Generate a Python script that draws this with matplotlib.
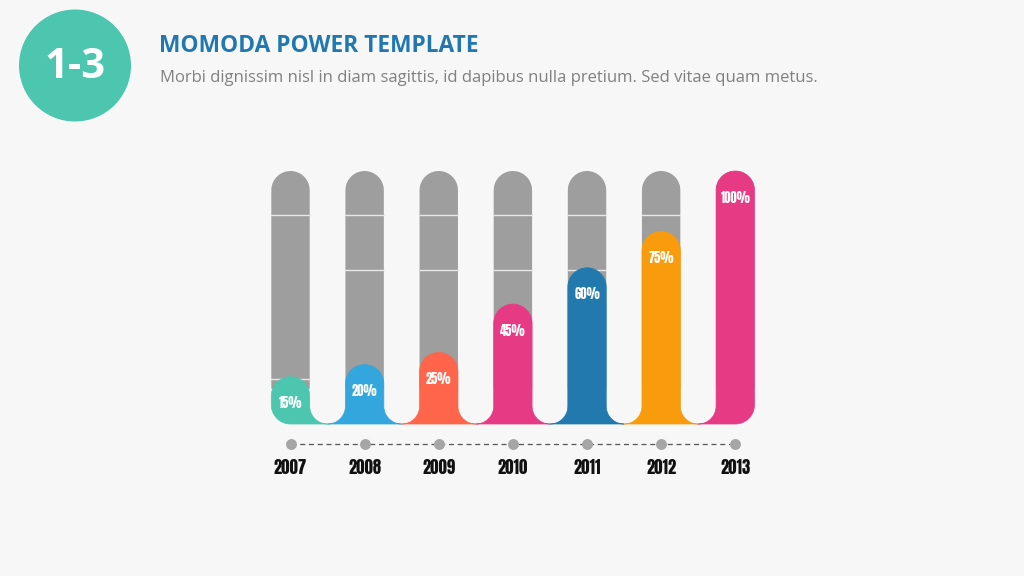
import numpy as np
import matplotlib
matplotlib.use("Agg")
import matplotlib.pyplot as plt
from matplotlib.path import Path
from matplotlib.patches import PathPatch, Circle

# data
years = ["2007", "2008", "2009", "2010", "2011", "2012", "2013"]
values = [15, 20, 25, 45, 60, 75, 100]
labels = ["15%", "20%", "25%", "45%", "60%", "75%", "100%"]
colors = ["#4cc6ae", "#33a6de", "#fe654a", "#e63b84", "#2279ae", "#f89c0e", "#e63b84"]
# white divider lines seen inside the grey tubes
dividers = [[82, 14], [82, 59], [82, 59], [82, 59], [82, 59], [82, 59], []]

title = "MOMODA POWER TEMPLATE"
subtitle = "Morbi dignissim nisl in diam sagittis, id dapibus nulla pretium. Sed vitae quam metus."
badge = "1-3"

W, H = 1024, 576
bg = "#f7f7f7"
grey = "#9e9e9e"
narrow = ["Anton", "Open Sans Condensed", "DejaVu Sans"]

# pixel scale of the chart axes (px per data unit)
sx = 74.13
sy = 2.42
x0_px = 290.5
y0_px = 413.0
ybase = -4.55

fig = plt.figure(figsize=(W / 100, H / 100), dpi=100, facecolor=bg)
ax = fig.add_axes([0, 0, 1, 1])
ax.set_facecolor(bg)
ax.set_xlim(-x0_px / sx, (W - x0_px) / sx)
ax.set_ylim((y0_px - H) / sy, y0_px / sy)
ax.axis("off")

r_px = 19.2
w = r_px / sx
rx, ry = r_px / sx, r_px / sy
g = 0.5 - w
gx, gy = g, g * sx / sy


def arc(cx, cy, ax_, ay_, a0, a1, n=30):
    t = np.radians(np.linspace(a0, a1, n))
    return list(zip(cx + ax_ * np.cos(t), cy + ay_ * np.sin(t)))


def tube(i, top, bottom):
    pts = [(i - w, bottom), (i + w, bottom), (i + w, top - ry)]
    pts += arc(i, top - ry, rx, ry, 0, 180)
    pts.append((i - w, bottom))
    return pts


def colored(i, top, n):
    pts = []
    if i == 0:
        pts += arc(i - w + rx, ybase + ry, rx, ry, 180, 270)
    else:
        pts += arc(i - 0.5, ybase + gy, gx, gy, 0, -90)
    if i == n - 1:
        pts += arc(i + w - rx, ybase + ry, rx, ry, 270, 360)
    else:
        pts += arc(i + 0.5, ybase + gy, gx, gy, -90, -180)
    pts.append((i + w, top - ry))
    pts += arc(i, top - ry, rx, ry, 0, 180)
    pts.append(pts[0])
    return pts


n = len(values)
for i in range(n):
    p = tube(i, 100, 10)
    ax.add_patch(PathPatch(Path(p), facecolor=grey, edgecolor="none", zorder=1))
    for d in dividers[i]:
        ax.plot([i - w, i + w], [d, d], color="#e8e8e8", lw=1, zorder=2)

for i, v in enumerate(values):
    p = colored(i, v, n)
    ax.add_patch(PathPatch(Path(p), facecolor=colors[i], edgecolor=colors[i],
                           lw=0.5, zorder=3))
    ax.text(i, v - 11, labels[i], ha="center", va="center", color="white",
            fontsize=9, family=narrow, zorder=4)

# timeline
xs = np.arange(n)
ax.plot([xs[0], xs[-1]], [-12.8, -12.8], color="#555555", lw=0.9,
        linestyle=(0, (4, 3)), zorder=1)
ax.scatter(xs, [-12.8] * n, s=62, color="#a6a6a6", zorder=2, linewidths=0)
for i, y in enumerate(years):
    ax.text(i, -22.4, y, ha="center", va="center", color="#111111",
            fontsize=12, family=narrow)

# header
hx = fig.add_axes([0, 0, 1, 1], facecolor="none")
hx.set_xlim(0, W)
hx.set_ylim(H, 0)
hx.axis("off")
hx.add_patch(Circle((75, 65.5), 56, facecolor="#4cc6ae", edgecolor="none"))
hx.text(75, 67, badge, ha="center", va="center", color="white", fontsize=30,
        fontweight="bold", family=["Open Sans", "DejaVu Sans"])
hx.text(159, 46, title, ha="left", va="center", color="#2178b0", fontsize=16.4,
        fontweight="bold", family=["Open Sans", "DejaVu Sans"])
hx.text(160, 78, subtitle, ha="left", va="center", color="#808080", fontsize=12,
        family=["Open Sans", "DejaVu Sans"])

fig.savefig("out.png", dpi=100, facecolor=bg)
